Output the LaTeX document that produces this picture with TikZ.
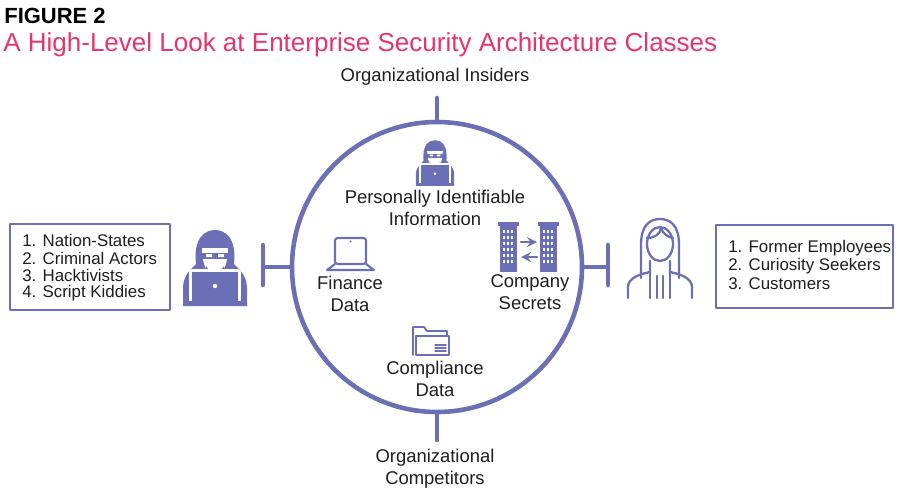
\documentclass[tikz,border=0pt]{standalone}
\usepackage{fontspec}
\setmainfont{Liberation Sans}
\usetikzlibrary{positioning}
\definecolor{ringblue}{HTML}{6A6FB6}
\definecolor{titlepink}{HTML}{E8336D}
\definecolor{textgray}{HTML}{1E1E1E}

\tikzset{
  label text/.style={font=\fontsize{10.5}{12.5}\selectfont, text=textgray, align=center, inner sep=0pt},
  list box/.style={draw=ringblue, line width=1.3pt},
  list text/.style={font=\fontsize{9.6}{12}\selectfont, text=textgray, anchor=west, inner sep=0pt},
  ring/.style={draw=ringblue, line width=2.6pt},
  pics/hacker/.style={code={
      \fill[ringblue] (-32,38) -- (-32,20) .. controls (-32,6) and (-22,0) .. (-19,-4)
        .. controls (-22,-30) and (-10,-38) .. (0,-38) .. controls (10,-38) and (22,-30) .. (19,-4)
        .. controls (22,0) and (32,6) .. (32,20) -- (32,38) -- cycle;
      \fill[white] (-13,-20) .. controls (-13,0) and (-5,9) .. (0,9) .. controls (5,9) and (13,0) .. (13,-20) -- cycle;
      \fill[ringblue] (-13,-15) rectangle (13,-9);
      \fill[white] (-9,-14) rectangle (-3,-11) (3,-14) rectangle (9,-11);
      \fill[ringblue] (-9,-2) .. controls (-5,6) and (5,6) .. (9,-2) -- (9,4) -- (-9,4) -- cycle;
      \draw[white, line width=3pt] (-23,4) rectangle (23,33);
      \fill[ringblue] (-23,4) rectangle (23,33);
      \fill[white] (0,18) circle (2.2);
      \fill[ringblue] (-27,33) rectangle (27,38);
  }}
}

\begin{document}
\begin{tikzpicture}[x=0.02cm, y=-0.02cm, line cap=round, line join=round]
  \useasboundingbox (0,0) rectangle (900,491);

  % heading
  \node[anchor=west, inner sep=0pt, font=\bfseries\fontsize{12.5}{14}\selectfont] (fig) at (4,16) {FIGURE 2};
  \node[anchor=west, inner sep=0pt, text=titlepink, font=\fontsize{14.8}{18}\selectfont] (title) at (3,45)
    {A High-Level Look at Enterprise Security Architecture Classes};

  % ring and its four ticks
  \node[ring, circle, minimum size=290*0.02cm, inner sep=0pt] (ring) at (437,267) {};
  \coordinate (topend) at (437,98);
  \coordinate (botend) at (437,440);
  \coordinate (lbar) at (263,267);
  \coordinate (rbar) at (608,267);
  \draw[ring] (ring.north) -- (topend);
  \draw[ring] (ring.south) -- (botend);
  \draw[ring] (ring.west) -- (lbar);
  \draw[ring] (ring.east) -- (rbar);
  \draw[ring] (263,245) -- (263,285);
  \draw[ring] (608,245) -- (608,285);

  \node[label text] (insiders) at (435,77) {Organizational Insiders};
  \node[label text] (competitors) at (435,469) {Organizational\\Competitors};

  % inside the ring
  \pic[scale=0.6] at (435,163) {hacker};
  \node[label text] (pii) at (435,208) {Personally Identifiable\\Information};

  \draw[ringblue, line width=1.2pt, rounded corners=1.5pt] (335,238) rectangle (366,264);
  \fill[ringblue] (350.5,241.5) circle (1.1);
  \draw[ringblue, line width=1.2pt] (335,264) -- (327,270) -- (374,270) -- (366,264);
  \node[label text] (finance) at (350,294) {Finance\\Data};

  \foreach \bx in {500,540} {
    \fill[ringblue] (\bx,224) rectangle (\bx+17,272);
    \fill[ringblue] (\bx-2,222) rectangle (\bx+19,226);
    \foreach \wy in {230,236,...,262}
      \foreach \wx in {3,7,11}
        \fill[white] (\bx+\wx,\wy) rectangle (\bx+\wx+2.2,\wy+3);
  }
  \draw[ringblue, line width=1.5pt, -stealth] (521,242) -- (537,242);
  \draw[ringblue, line width=1.5pt, -stealth] (537,257) -- (521,257);
  \node[label text] (secrets) at (530,292) {Company\\Secrets};

  \draw[ringblue, line width=1.1pt] (413,355) -- (413,327) -- (424,327) -- (427,331) -- (447,331) -- (447,336);
  \draw[ringblue, line width=1.1pt] (416,355) -- (416,336) -- (449,336) -- (449,355) -- cycle;
  \foreach \ly in {345,348,351}
    \draw[ringblue, line width=0.8pt] (435,\ly) -- (446,\ly);
  \node[label text] (compliance) at (435,379) {Compliance\\Data};

  % threat actors outside
  \pic[scale=1] at (215,268) {hacker};
  \draw[list box] (10,224) rectangle (170,310);
  \node[list text] (ext1) at (22,240) {1. Nation-States};
  \node[list text] (ext2) at (22,258) {2. Criminal Actors};
  \node[list text] (ext3) at (22,275) {3. Hacktivists};
  \node[list text] (ext4) at (22,293) {4. Script Kiddies};

  % insider person
  \draw[ringblue, line width=1.3pt]
    (641,278) -- (641,245) .. controls (641,225) and (650,219) .. (660,219)
    .. controls (670,219) and (679,225) .. (679,245) -- (679,278);
  \draw[ringblue, line width=1.3pt] (660,244) ellipse (13 and 17);
  \draw[ringblue, line width=1.3pt] (647,238) .. controls (655,238) and (660,234) .. (661,228)
    .. controls (663,234) and (668,237) .. (673,238);
  \draw[ringblue, line width=1.3pt] (628,298) -- (628,287) .. controls (628,278) and (640,274) .. (650,272)
    -- (650,261);
  \draw[ringblue, line width=1.3pt] (692,298) -- (692,287) .. controls (692,278) and (680,274) .. (670,272)
    -- (670,261);
  \draw[ringblue, line width=1.3pt] (650,272) -- (650,298) (670,272) -- (670,298);
  \draw[ringblue, line width=1.3pt] (657,276) -- (657,298) (663,276) -- (663,298);
  \draw[list box] (716,225) rectangle (893,308);
  \node[list text] (int1) at (728,248) {1. Former Employees};
  \node[list text] (int2) at (728,266) {2. Curiosity Seekers};
  \node[list text] (int3) at (728,284) {3. Customers};
\end{tikzpicture}
\end{document}
